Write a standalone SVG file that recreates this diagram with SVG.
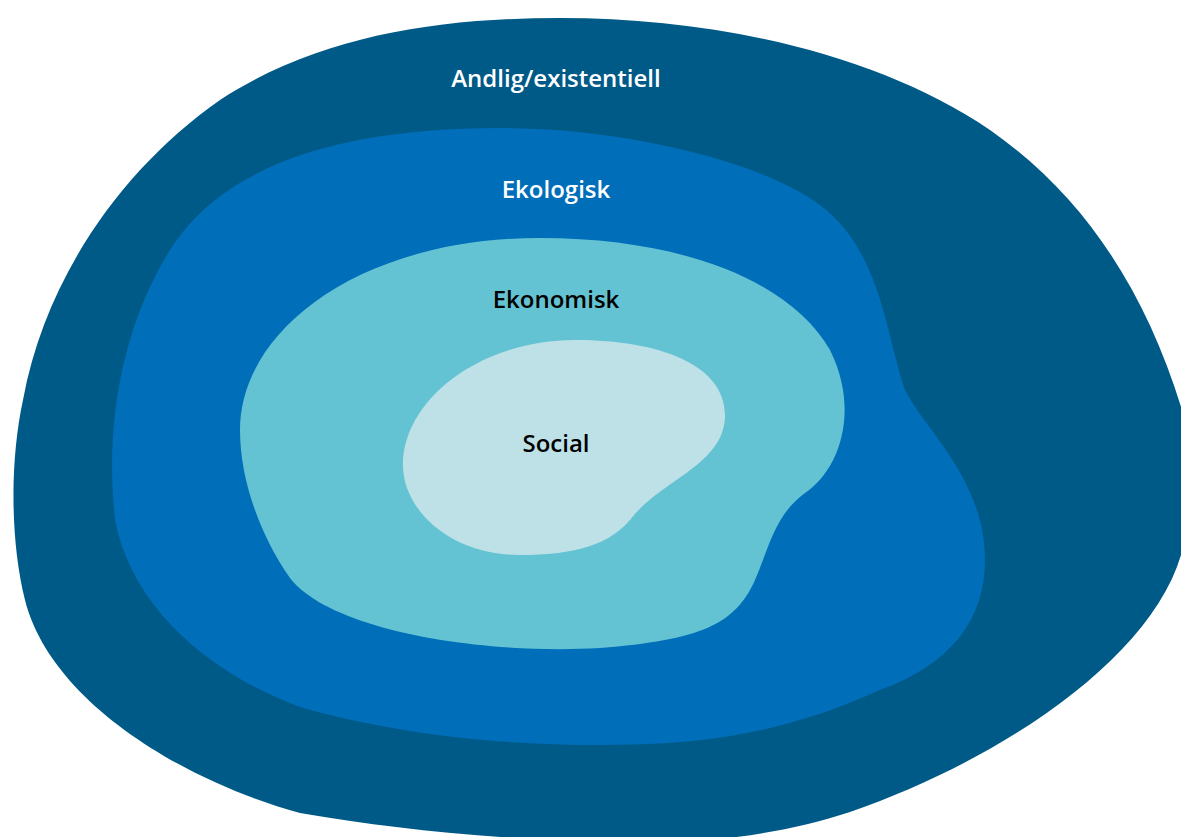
<svg xmlns="http://www.w3.org/2000/svg" width="1181" height="837" viewBox="0 0 1181 837">
<style>
.lbl{font-family:"Open Sans","Noto Sans","Liberation Sans",sans-serif;font-weight:600;font-size:24px;text-anchor:middle}
.w{fill:#ffffff}
.k{fill:#000000}
</style>
<rect width="1181" height="837" fill="#ffffff"/>
<g id="andlig">
<path fill="#005A87" d="M 560 18 C 720 18 880 55 990 130 C 1090 200 1150 300 1185 420 C 1200 490 1195 520 1181 555 C 1150 660 1000 760 850 812 C 780 835 700 845 620 842 C 500 840 400 830 300 813 C 180 780 50 700 25 600 C 10 540 10 460 23 400 C 45 280 120 170 220 100 C 320 35 440 18 560 18 Z"/>
<text class="lbl w" x="556" y="87">Andlig/existentiell</text>
</g>
<g id="ekologisk">
<path fill="#006EB9" d="M 500 128 C 620 128 760 160 820 205 C 880 250 885 330 905 390 C 925 430 985 480 985 560 C 985 620 950 665 880 690 C 780 735 700 745 600 745 C 480 745 380 730 300 707 C 200 670 130 600 115 520 C 105 430 120 330 170 250 C 220 170 330 128 500 128 Z"/>
<text class="lbl w" x="556" y="198">Ekologisk</text>
</g>
<g id="ekonomisk">
<path fill="#64C3D2" d="M 540 238 C 680 238 790 280 830 350 C 860 410 840 470 805 493 C 775 515 770 545 755 580 C 735 625 700 640 600 648 C 480 655 330 630 290 578 C 260 535 240 480 240 430 C 240 330 360 238 540 238 Z"/>
<text class="lbl k" x="556" y="308">Ekonomisk</text>
</g>
<g id="social">
<path fill="#BEE1E8" d="M 575 340 C 660 340 725 365 725 415 C 725 465 660 480 630 520 C 605 550 560 555 520 555 C 450 555 403 510 403 465 C 403 400 480 340 575 340 Z"/>
<text class="lbl k" x="556" y="452">Social</text>
</g>
<g id="connectors"></g>
</svg>
